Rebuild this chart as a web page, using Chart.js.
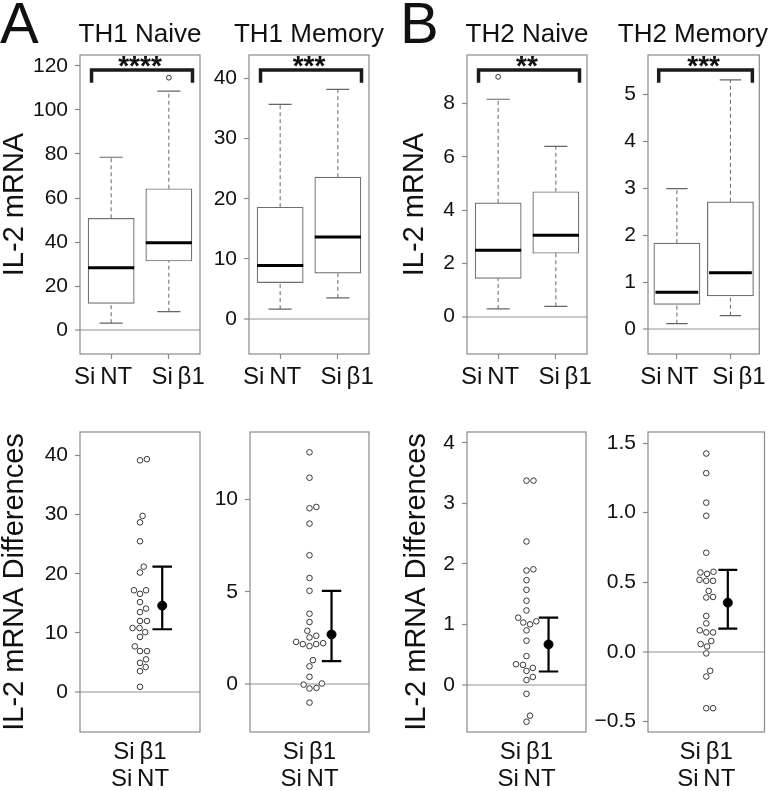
<!DOCTYPE html>
<html>
<head>
<meta charset="utf-8">
<script src="https://cdn.jsdelivr.net/npm/chart.js@4.4.1/dist/chart.umd.min.js"></script>
<style>
  body { margin: 0; background: #fff; width: 770px; height: 791px; position: relative; overflow: hidden;
         font-family: "Liberation Sans", Arial, Helvetica, sans-serif; }
  canvas { position: absolute; left: 0; top: 0; }
  .tag { position: absolute; font-size: 58px; line-height: 58px; color: #111; }
</style>
</head>
<body>
<div class="tag" style="left:0px;top:-6px">A</div>
<div class="tag" style="left:400px;top:-6px">B</div>
<canvas id="p1" width="770" height="791"></canvas>
<canvas id="p2" width="770" height="791"></canvas>
<canvas id="p3" width="770" height="791"></canvas>
<canvas id="p4" width="770" height="791"></canvas>
<canvas id="p5" width="770" height="791"></canvas>
<canvas id="p6" width="770" height="791"></canvas>
<canvas id="p7" width="770" height="791"></canvas>
<canvas id="p8" width="770" height="791"></canvas>
<script>
// ---- data ----
const groups = ["Si\u2009NT", "Si\u2009\u03b21"];
const diffLabel = ["Si\u2009\u03b21", "Si\u2009NT"];
const titles = ["TH1 Naive", "TH1 Memory", "TH2 Naive", "TH2 Memory"];
const stars = ["****", "***", "**", "***"];

// box stats: [lower whisker, Q1, median, Q3, upper whisker]
const th1NaiveNT = [3.2, 12.2, 28.4, 50.8, 78.5];
const th1NaiveB1 = [8.4, 31.4, 39.7, 64.2, 108.5];
const th1NaiveOut = [[], [114.6]];
const th1MemNT = [1.66, 6.07, 8.9, 18.6, 35.7];
const th1MemB1 = [3.53, 7.63, 13.66, 23.6, 38.2];
const th1MemOut = [[], []];
const th2NaiveNT = [0.29, 1.44, 2.49, 4.27, 8.16];
const th2NaiveB1 = [0.39, 2.38, 3.06, 4.69, 6.39];
const th2NaiveOut = [[9.0], []];
const th2MemNT = [0.12, 0.53, 0.79, 1.83, 2.99];
const th2MemB1 = [0.29, 0.71, 1.20, 2.71, 5.30];
const th2MemOut = [[], []];

// paired differences (Si b1 - Si NT), mean and 95% CI
const th1NaiveDiff = [39.2, 39.4, 29.8, 28.7, 25.5, 21.2, 20.2, 17.2, 17.2, 16.6, 15.2, 14.1, 13.5,
  12.0, 12.0, 10.8, 10.8, 10.1, 9.3, 7.7, 6.9, 6.9, 5.5, 4.9, 4.2, 3.5, 0.85];
const th1NaiveMean = 14.6, th1NaiveCI = [10.6, 21.2];
const th1MemDiff = [12.53, 11.16, 9.51, 9.58, 8.68, 6.97, 5.74, 5.05, 3.81, 3.36, 2.89, 2.62, 2.53,
  2.22, 2.17, 2.06, 2.17, 2.29, 1.30, 0.97, 0.40, -0.02, -0.23, -0.20, 0.04, -0.99];
const th1MemMean = 2.69, th1MemCI = [1.25, 5.05];
const th2NaiveDiff = [3.376, 3.376, 2.37, 1.89, 1.91, 1.73, 1.57, 1.39, 1.23, 1.11, 1.03, 1.0, 1.05,
  0.90, 0.73, 0.475, 0.34, 0.33, 0.28, 0.23, 0.13, 0.08, -0.15, -0.51, -0.61];
const th2NaiveMean = 0.668, th2NaiveCI = [0.22, 1.11];
const th2MemDiff = [1.425, 1.284, 1.072, 0.978, 0.712, 0.57, 0.575, 0.56, 0.517, 0.51, 0.51, 0.437,
  0.39, 0.394, 0.257, 0.204, 0.154, 0.139, 0.139, 0.077, 0.055, 0.038, -0.012, -0.137, -0.178, -0.406, -0.406];
const th2MemMean = 0.353, th2MemCI = [0.166, 0.589];

// axis ticks and ranges
const ticksTop = [[0, 20, 40, 60, 80, 100, 120], [0, 10, 20, 30, 40], [0, 2, 4, 6, 8], [0, 1, 2, 3, 4, 5]];
const rangeTop = [[-10.8, 124.9], [-5.8, 43.9], [-1.4, 9.82], [-0.525, 5.83]];
const ticksBottom = [[0, 10, 20, 30, 40], [0, 5, 10], [0, 1, 2, 3, 4], [-0.5, 0, 0.5, 1, 1.5]];
const rangeBottom = [[-6.8, 44.0], [-2.58, 13.63], [-0.78, 4.18], [-0.577, 1.58]];

// ---- drawing ----
const FONT = '"Liberation Sans", Arial, Helvetica, sans-serif';
Chart.defaults.font.family = FONT;
Chart.defaults.color = "#111";
Chart.defaults.animation = false;

const GREY = "#8a8a8a";
const markAt = [1, 2];        // group positions (tick marks)
const labelAt = [0.86, 2.16]; // group labels sit a little outward, as in the figure

// panel frame (R style box round the plot region)
const frame = {
  id: "frame",
  beforeDatasetsDraw(chart) {
    const { ctx, chartArea: a } = chart;
    ctx.save();
    ctx.strokeStyle = GREY;
    ctx.lineWidth = 1.2;
    ctx.strokeRect(a.left, a.top, a.right - a.left, a.bottom - a.top);
    ctx.restore();
  },
};

// panel title + significance stars above the bracket
const heading = {
  id: "heading",
  afterDatasetsDraw(chart, args, opts) {
    if (!opts || !opts.title) return;
    const { ctx, scales, chartArea: a } = chart;
    ctx.save();
    ctx.fillStyle = "#111";
    ctx.textAlign = "center";
    ctx.textBaseline = "alphabetic";
    ctx.font = "26px " + FONT;
    const w = ctx.measureText(opts.title).width;
    const cx = Math.min((a.left + a.right) / 2, chart.width - 2 - w / 2);
    ctx.fillText(opts.title, cx, 42);
    ctx.font = "bold 28px " + FONT;
    ctx.fillText(opts.stars, scales.x.getPixelForValue(1.5), scales.y.getPixelForValue(opts.y) + 5);
    ctx.restore();
  },
};

// R beeswarm "swarm" placement (ascending priority), offsets in px
function swarm(values, pxPerUnit, dot) {
  const order = values.map((v, i) => i).sort((a, b) => values[a] - values[b]);
  const placed = [];
  const off = new Array(values.length).fill(0);
  order.forEach((i) => {
    const yi = (values[i] * pxPerUnit) / dot;
    const near = placed.filter((p) => Math.abs(p.y - yi) < 1);
    let best = 0;
    if (near.length) {
      const cands = [0];
      near.forEach((p) => cands.push(p.x + Math.sqrt(1 - (yi - p.y) ** 2)));
      near.forEach((p) => cands.push(p.x - Math.sqrt(1 - (yi - p.y) ** 2)));
      let bestAbs = Infinity;
      cands.forEach((c) => {
        const bad = near.some((p) => (c - p.x) ** 2 + (yi - p.y) ** 2 < 0.999);
        if (!bad && Math.abs(c) < bestAbs) { bestAbs = Math.abs(c); best = c; }
      });
    }
    placed.push({ x: best, y: yi });
    off[i] = best * dot;
  });
  return off;
}

// segments in one line dataset, split by gaps
const seg = (pairs) => pairs.flatMap(([a, b]) => [a, b, { x: a.x, y: null }]);

function yAxis(range, ticks, title, aw, fmt) {
  return {
    type: "linear", min: range[0], max: range[1],
    afterBuildTicks: (s) => { s.ticks = ticks.map((v) => ({ value: v })); },
    afterFit: (s) => { s.width = aw; },
    ticks: { font: { size: 21 }, color: "#111", padding: 7, autoSkip: false, callback: fmt || ((v) => String(v)) },
    grid: {
      color: (c) => (c.tick && c.tick.value === 0 ? "#c9c9c9" : "rgba(0,0,0,0)"),
      lineWidth: (c) => (c.tick && c.tick.value === 0 ? 2 : 1),
      tickColor: GREY, tickWidth: 1.2, tickLength: 5,
    },
    border: { display: false },
    title: { display: !!title, text: title || "", font: { size: 29, lineHeight: 1 }, padding: 0, color: "#111" },
  };
}

function boxPanel(id, k, nt, b1, outliers, aw, title, L, R) {
  const stats = [nt, b1];
  const xs = markAt;
  const [lo, hi] = rangeTop[k];
  const brTop = hi - (hi - lo) * 0.05;
  const brLow = hi - (hi - lo) * 0.093;
  new Chart(document.getElementById(id), {
    type: "scatter",
    data: {
      datasets: [
        { type: "line", data: seg(xs.map((x, i) => [{ x: x - 0.4, y: stats[i][2] }, { x: x + 0.4, y: stats[i][2] }])),
          borderColor: "#000", borderWidth: 3, pointRadius: 0, borderCapStyle: "butt" },
        { type: "scatter", data: outliers.flatMap((o, i) => o.map((v) => ({ x: xs[i], y: v }))),
          pointRadius: 2.4, borderWidth: 1, borderColor: "#333", backgroundColor: "#fff" },
        { type: "line", data: [{ x: 0.66, y: brLow }, { x: 0.66, y: brTop }, { x: 2.41, y: brTop }, { x: 2.41, y: brLow }],
          borderColor: "#1a1a1a", borderWidth: 3.5, pointRadius: 0, borderJoinStyle: "miter", borderCapStyle: "butt" },
        { type: "line", data: seg(xs.flatMap((x, i) => [
            [{ x: x - 0.2, y: stats[i][0] }, { x: x + 0.2, y: stats[i][0] }],
            [{ x: x - 0.2, y: stats[i][4] }, { x: x + 0.2, y: stats[i][4] }]])),
          borderColor: "#666", borderWidth: 1.2, pointRadius: 0 },
        { type: "line", data: seg(xs.flatMap((x, i) => [
            [{ x, y: stats[i][0] }, { x, y: stats[i][1] }],
            [{ x, y: stats[i][3] }, { x, y: stats[i][4] }]])),
          borderColor: "#666", borderWidth: 1, borderDash: [4, 3], pointRadius: 0 },
        { type: "bar", data: xs.map((x, i) => ({ x, y: [stats[i][1], stats[i][3]] })),
          backgroundColor: "#fff", borderColor: "#6e6e6e", borderWidth: 1.2, borderSkipped: false,
          barThickness: (0.8 * (R - L)) / 2.08 },
      ],
    },
    options: {
      responsive: false, events: [],
      layout: { padding: { left: L - aw, right: 770 - R, top: 55, bottom: 791 - 354 - 40 } },
      plugins: {
        legend: { display: false }, tooltip: { enabled: false },
        heading: { title: titles[k], stars: stars[k], y: brTop },
      },
      scales: {
        x: {
          type: "linear", min: 0.46, max: 2.54, offset: false,
          afterBuildTicks: (s) => { s.ticks = [labelAt[0], xs[0], xs[1], labelAt[1]].map((v) => ({ value: v })); },
          afterFit: (s) => { s.height = 40; },
          ticks: { font: { size: 24 }, color: "#111", padding: 4, maxRotation: 0, autoSkip: false,
                   callback: (v) => (v === labelAt[0] ? groups[0] : v === labelAt[1] ? groups[1] : "") },
          grid: { drawOnChartArea: false, offset: false, tickLength: 5, tickWidth: 1.2,
                  tickColor: (c) => (c.tick && markAt.includes(c.tick.value) ? GREY : "rgba(0,0,0,0)") },
          border: { display: false },
        },
        y: yAxis(rangeTop[k], ticksTop[k], title, aw),
      },
    },
    plugins: [frame, heading],
  });
}

function diffPanel(id, k, values, mean, ci, aw, title, L, R, fmt) {
  const [lo, hi] = rangeBottom[k];
  const off = swarm(values, 300 / (hi - lo), 7);
  const pxX = (R - L) / 1.08;
  const ex = 1.2;
  new Chart(document.getElementById(id), {
    type: "scatter",
    data: {
      datasets: [
        { type: "scatter", data: [{ x: ex, y: mean }], pointRadius: 4.5, backgroundColor: "#000", borderColor: "#000" },
        { type: "line", data: seg([
            [{ x: ex, y: ci[0] }, { x: ex, y: ci[1] }],
            [{ x: ex - 0.088, y: ci[0] }, { x: ex + 0.088, y: ci[0] }],
            [{ x: ex - 0.088, y: ci[1] }, { x: ex + 0.088, y: ci[1] }]]),
          borderColor: "#000", borderWidth: 2.2, pointRadius: 0, borderCapStyle: "butt" },
        { type: "scatter", data: values.map((v, i) => ({ x: 1 + off[i] / pxX, y: v })),
          pointRadius: 2.8, borderWidth: 0.9, borderColor: "#222", backgroundColor: "#fff" },
      ],
    },
    options: {
      responsive: false, events: [],
      layout: { padding: { left: L - aw, right: 770 - R, top: 432, bottom: 0 } },
      plugins: { legend: { display: false }, tooltip: { enabled: false } },
      scales: {
        x: {
          type: "linear", min: 0.46, max: 1.54,
          afterBuildTicks: (s) => { s.ticks = [{ value: 1 }]; },
          afterFit: (s) => { s.height = 59; },
          ticks: { font: { size: 24, lineHeight: 1.125 }, color: "#111", padding: 6.5, maxRotation: 0, autoSkip: false,
                   callback: () => diffLabel },
          grid: { drawOnChartArea: false, drawTicks: false },
          border: { display: false },
        },
        y: yAxis(rangeBottom[k], ticksBottom[k], title, aw, fmt),
      },
    },
    plugins: [frame],
  });
}

boxPanel("p1", 0, th1NaiveNT, th1NaiveB1, th1NaiveOut, 80, "IL-2 mRNA", 80, 200);
boxPanel("p2", 1, th1MemNT, th1MemB1, th1MemOut, 60, "", 249, 369);
boxPanel("p3", 2, th2NaiveNT, th2NaiveB1, th2NaiveOut, 67, "IL-2 mRNA", 467, 587);
boxPanel("p4", 3, th2MemNT, th2MemB1, th2MemOut, 60, "", 648, 768);

const oneDecimal = (v) => (v < 0 ? "\u2212" : "") + Math.abs(v).toFixed(1);
diffPanel("p5", 0, th1NaiveDiff, th1NaiveMean, th1NaiveCI, 80, "IL-2 mRNA Differences", 80, 200);
diffPanel("p6", 1, th1MemDiff, th1MemMean, th1MemCI, 60, "", 250, 369);
diffPanel("p7", 2, th2NaiveDiff, th2NaiveMean, th2NaiveCI, 65, "IL-2 mRNA Differences", 467, 586);
diffPanel("p8", 3, th2MemDiff, th2MemMean, th2MemCI, 60, "", 648, 768, oneDecimal);
</script>
</body>
</html>
